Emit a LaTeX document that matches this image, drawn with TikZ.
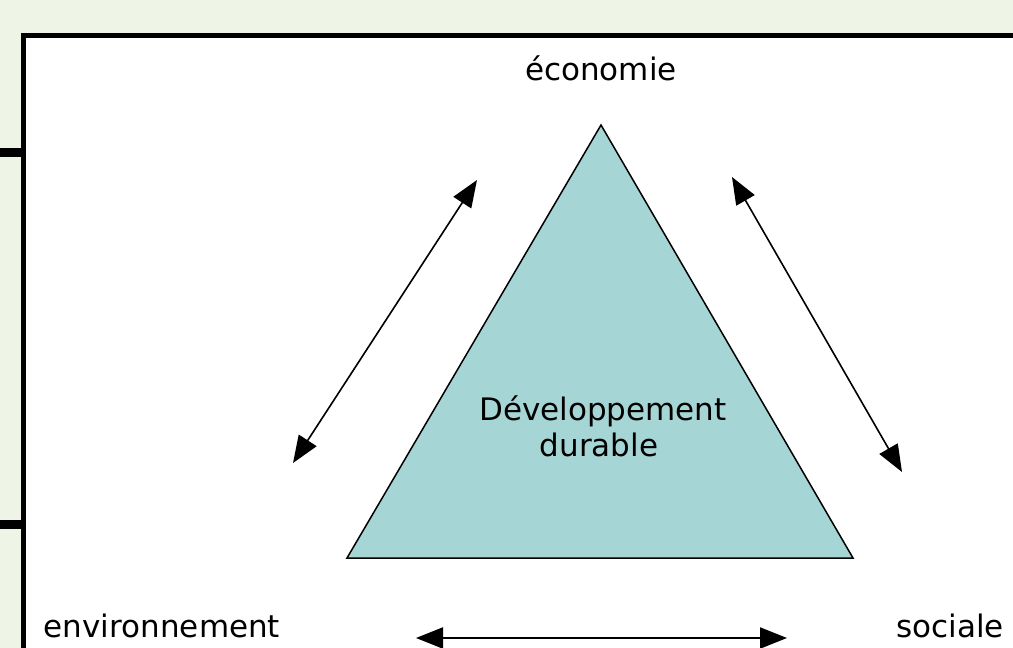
\documentclass[tikz,border=0pt]{standalone}
\usepackage{fontspec}
\setmainfont{DejaVu Sans}
\usepackage{xcolor}
\usepackage{tikz}
\usetikzlibrary{arrows.meta}
\usetikzlibrary{positioning, calc}
\definecolor{pagebg}{HTML}{EEF4E6}
\definecolor{teal}{HTML}{A6D5D5}

\tikzset{
    lbl/.style={font=\fontsize{31}{35}\selectfont, inner sep=0pt},
    link/.style={line width=1.6pt, {Triangle[length=27pt,width=21pt]}-{Triangle[length=27pt,width=21pt]}}
}

\begin{document}
\begin{tikzpicture}[x=1pt, y=-1pt]
    \useasboundingbox (0,0) rectangle (1013,648);
    \fill[pagebg] (0,0) rectangle (1013,648);

    % white frame, cut by the page edge
    \begin{scope}
        \clip (0,0) rectangle (1013,648);
        \draw[line width=5pt, fill=white] (23.5,35.5) rectangle (1040,680);
    \end{scope}
    \draw[line width=9pt] (0,152.5) -- (21,152.5);
    \draw[line width=9pt] (0,524) -- (21,524);

    % the triangle
    \draw[line width=1.5pt, fill=teal, line join=miter]
        (601,125) coordinate (top) -- (853,558) coordinate (right)
        -- (347,558) coordinate (left) -- cycle;

    \foreach \n/\x/\y/\t in {
        eco/601/68/économie,
        dev/603/411/Développement,
        dur/599/445/durable,
        env/162/626/environnement,
        soc/950/626/sociale}
        \node[lbl] (\n) at (\x,\y) {\t};

    % ends of the arrows
    \foreach \n/\x/\y in {
        la/293/463, lb/477/180,
        ra/732/177, rb/902/472,
        ba/416/638, bb/787/638}
        \coordinate (\n) at (\x,\y);

    \draw[link] (la) -- (lb);
    \draw[link] (ra) -- (rb);
    \draw[link, line width=2.2pt] (ba) -- (bb);
\end{tikzpicture}
\end{document}
